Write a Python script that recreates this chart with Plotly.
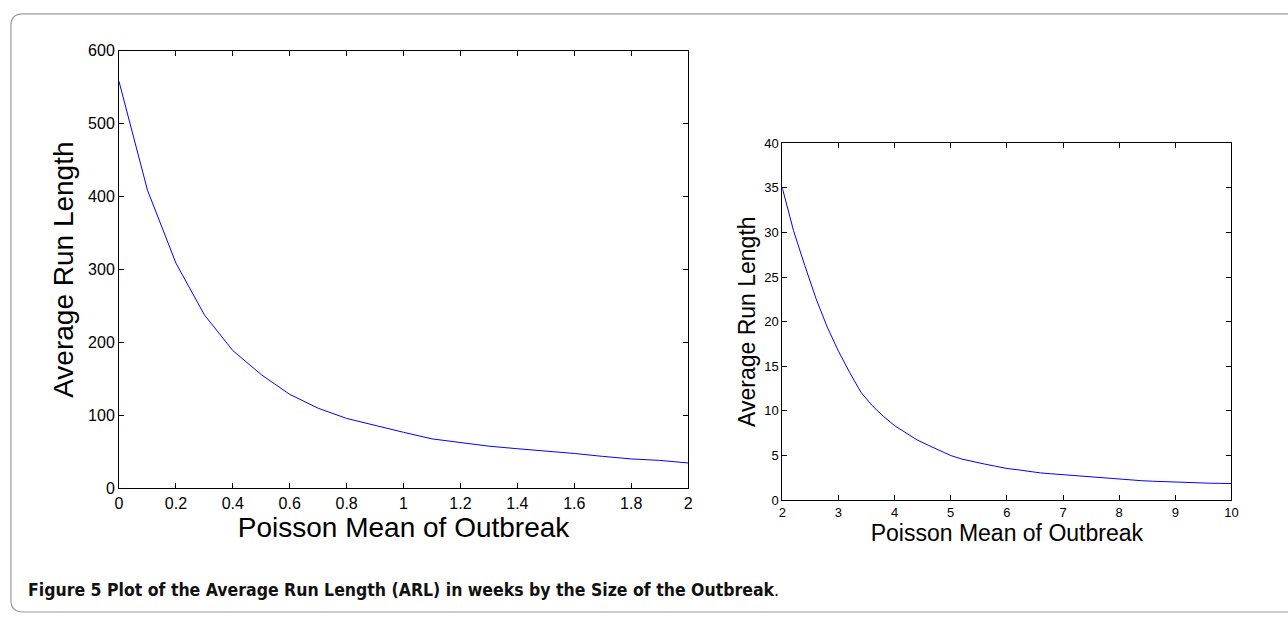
import plotly.graph_objects as go

# ---- data ----
left_x = [0.0, 0.1, 0.2, 0.3, 0.4, 0.5, 0.6, 0.7, 0.8, 0.9, 1.0,
          1.1, 1.2, 1.3, 1.4, 1.5, 1.6, 1.7, 1.8, 1.9, 2.0]
left_arl = [558, 409, 309, 238, 189, 156, 129, 110, 96, 86, 77,
            68, 63, 58, 54.5, 51.5, 48, 44, 40.5, 38.5, 35]

right_x = [2.0, 2.2, 2.4, 2.6, 2.8, 3.0, 3.2, 3.4, 3.6, 3.8,
           4.0, 4.2, 4.4, 4.6, 4.8, 5.0, 5.2, 5.4, 5.6, 5.8,
           6.0, 6.2, 6.4, 6.6, 6.8, 7.0, 7.2, 7.4, 7.6, 7.8,
           8.0, 8.2, 8.4, 8.6, 8.8, 9.0, 9.2, 9.4, 9.6, 9.8, 10.0]
right_arl = [35.0, 30.2, 26.3, 22.6, 19.4, 16.7, 14.3, 12.1, 10.6, 9.4,
             8.35, 7.5, 6.75, 6.15, 5.55, 5.0, 4.6, 4.3, 4.05, 3.8,
             3.55, 3.4, 3.2, 3.05, 2.95, 2.85, 2.75, 2.62, 2.52, 2.42,
             2.32, 2.25, 2.18, 2.12, 2.06, 2.0, 1.95, 1.92, 1.9, 1.88, 1.86]

left_xticks = [0, 0.2, 0.4, 0.6, 0.8, 1, 1.2, 1.4, 1.6, 1.8, 2]
left_yticks = [0, 100, 200, 300, 400, 500, 600]
right_xticks = [2, 3, 4, 5, 6, 7, 8, 9, 10]
right_yticks = [0, 5, 10, 15, 20, 25, 30, 35, 40]

x_title = "Poisson Mean of Outbreak"
y_title = "Average Run Length"
caption = ("<b>Figure 5 Plot of the Average Run Length (ARL) in weeks "
           "by the Size of the Outbreak</b>.")

W, H = 1288, 621
FONT = "Liberation Sans, Arial, sans-serif"


def px(x):
    return x / W


def py(y):
    return 1 - y / H


fig = go.Figure()
fig.add_trace(go.Scatter(x=left_x, y=left_arl, mode="lines",
                         line=dict(color="#0000ff", width=1),
                         xaxis="x", yaxis="y", showlegend=False))
fig.add_trace(go.Scatter(x=right_x, y=right_arl, mode="lines",
                         line=dict(color="#0000ff", width=1),
                         xaxis="x2", yaxis="y2", showlegend=False))

common = dict(showgrid=False, zeroline=False, showline=True, mirror="allticks",
              linecolor="black", linewidth=1, ticks="inside", ticklen=5,
              tickcolor="black", tickwidth=1)

fig.update_layout(
    width=W, height=H,
    margin=dict(l=0, r=0, t=0, b=0),
    paper_bgcolor="white", plot_bgcolor="white",
    font=dict(family=FONT, color="black"),
    xaxis=dict(domain=[px(116), px(690)], range=[0, 2], tickvals=left_xticks,
               tickfont=dict(size=16), anchor="y",
               title=dict(text=x_title, font=dict(size=28), standoff=4),
               **common),
    yaxis=dict(domain=[py(494), py(44)], range=[0, 600], tickvals=left_yticks,
               tickfont=dict(size=16), anchor="x",
               title=dict(text=y_title, font=dict(size=28), standoff=6),
               **common),
    xaxis2=dict(domain=[px(785), px(1238)], range=[2, 10], tickvals=right_xticks,
                tickfont=dict(size=13), anchor="y2",
                title=dict(text=x_title, font=dict(size=23), standoff=2),
                **common),
    yaxis2=dict(domain=[py(506), py(139)], range=[0, 40], tickvals=right_yticks,
                tickfont=dict(size=13), anchor="x2",
                title=dict(text=y_title, font=dict(size=23), standoff=2),
                **common),
)

# rounded frame around the figure
r = 12
x0, y0, x1, y1 = 7, 6, 1300, 621
path = (f"M {px(x1)},{py(y0)} L {px(x0 + r)},{py(y0)} "
        f"Q {px(x0)},{py(y0)} {px(x0)},{py(y0 + r)} "
        f"L {px(x0)},{py(y1 - r)} "
        f"Q {px(x0)},{py(y1)} {px(x0 + r)},{py(y1)} L {px(x1)},{py(y1)}")
fig.add_shape(type="path", path=path, xref="paper", yref="paper",
              line=dict(color="#9a9a9a", width=1.2), layer="below")

fig.add_annotation(text=caption, xref="paper", yref="paper",
                   x=px(22), y=py(598), xanchor="left", yanchor="middle",
                   showarrow=False,
                   font=dict(family="DejaVu Sans Condensed, Liberation Sans Narrow, sans-serif",
                             size=17.5, color="#111111"))

fig.write_html(
    "out.html",
    config={"displayModeBar": False},
    post_script=(
        "document.documentElement.style.overflow='hidden';"
        "document.body.style.margin='0';document.body.style.overflow='hidden';"
        "var d=document.getElementById('{plot_id}');"
        "d.style.position='fixed';d.style.left='0px';d.style.top='0px';"
    ),
)
